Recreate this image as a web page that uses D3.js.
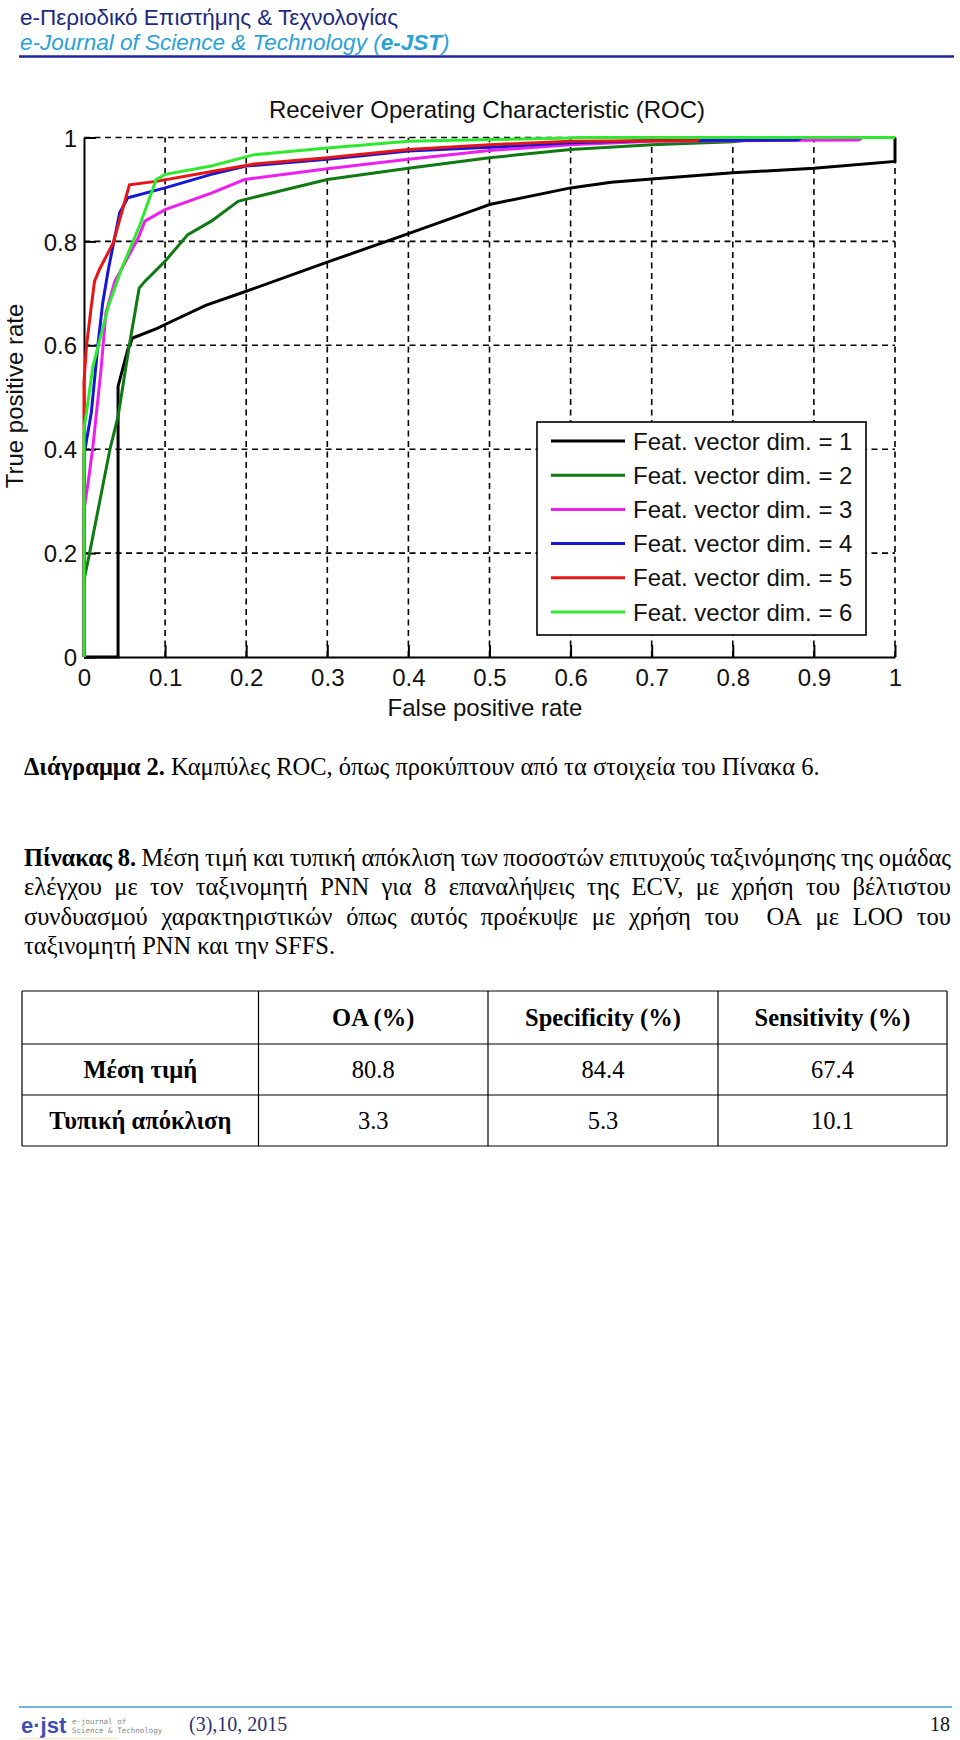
<!DOCTYPE html>
<html>
<head>
<meta charset="utf-8">
<script src="https://cdn.jsdelivr.net/npm/d3@7"></script>
<style>
html,body{margin:0;padding:0;background:#fff;}
svg{display:block;}
</style>
</head>
<body>
<svg id="page" width="960" height="1740"></svg>
<script>
// ---------------- DATA ----------------
const xTicks = [0, 0.1, 0.2, 0.3, 0.4, 0.5, 0.6, 0.7, 0.8, 0.9, 1];
const yTicks = [0, 0.2, 0.4, 0.6, 0.8, 1];
const xTickLabels = ["0", "0.1", "0.2", "0.3", "0.4", "0.5", "0.6", "0.7", "0.8", "0.9", "1"];
const yTickLabels = ["0", "0.2", "0.4", "0.6", "0.8", "1"];

const seriesLabels = [
  "Feat. vector dim. = 1", "Feat. vector dim. = 2", "Feat. vector dim. = 3",
  "Feat. vector dim. = 4", "Feat. vector dim. = 5", "Feat. vector dim. = 6"
];
// [false positive rate, true positive rate]
const rocDim1 = [[0,0],[0.042,0],[0.042,0.521],[0.054,0.592],[0.06,0.614],[0.091,0.633],[0.1,0.64],[0.15,0.677],[0.2,0.704],[0.3,0.76],[0.4,0.815],[0.488,0.864],[0.5,0.871],[0.6,0.903],[0.65,0.914],[0.7,0.92],[0.8,0.932],[0.9,0.941],[1,0.954],[1,1]];
const rocDim2 = [[0,0],[0,0.148],[0.007,0.201],[0.032,0.40],[0.042,0.463],[0.056,0.601],[0.068,0.71],[0.075,0.723],[0.1,0.762],[0.128,0.813],[0.157,0.839],[0.19,0.877],[0.215,0.887],[0.3,0.919],[0.4,0.941],[0.5,0.961],[0.6,0.977],[0.7,0.986],[0.8,0.992],[0.82,0.995],[0.83,1],[1,1]];
const rocDim3 = [[0,0],[0,0.283],[0.005,0.335],[0.011,0.405],[0.021,0.553],[0.027,0.662],[0.038,0.723],[0.046,0.746],[0.067,0.807],[0.075,0.839],[0.1,0.861],[0.157,0.893],[0.198,0.919],[0.3,0.94],[0.4,0.958],[0.5,0.975],[0.6,0.986],[0.7,0.993],[0.955,0.995],[0.96,1],[1,1]];
const rocDim4 = [[0,0],[0,0.389],[0.009,0.47],[0.017,0.598],[0.023,0.681],[0.03,0.746],[0.044,0.855],[0.054,0.884],[0.1,0.903],[0.157,0.929],[0.2,0.945],[0.3,0.958],[0.4,0.974],[0.5,0.981],[0.6,0.99],[0.7,0.994],[0.88,0.995],[0.885,1],[1,1]];
const rocDim5 = [[0,0],[0,0.53],[0.003,0.598],[0.009,0.675],[0.013,0.723],[0.019,0.746],[0.036,0.797],[0.056,0.909],[0.091,0.916],[0.149,0.932],[0.21,0.949],[0.3,0.961],[0.4,0.977],[0.5,0.986],[0.6,0.993],[0.756,0.994],[0.76,1],[1,1]];
const rocDim6 = [[0,0],[0,0.437],[0.011,0.559],[0.03,0.675],[0.046,0.746],[0.069,0.832],[0.089,0.919],[0.1,0.929],[0.157,0.945],[0.21,0.967],[0.3,0.98],[0.4,0.993],[0.5,0.996],[0.6,0.999],[0.61,1],[1,1]];

const tableHeaders = ["", "OA (%)", "Specificity (%)", "Sensitivity (%)"];
const tableRowLabels = ["Μέση τιμή", "Τυπική απόκλιση"];
const tableValues = [["80.8", "84.4", "67.4"], ["3.3", "5.3", "10.1"]];

// ---------------- STYLE ----------------
const seriesColors = ["#000000", "#0f7a12", "#ee1fee", "#1616d6", "#e61616", "#2eea2e"];
const SANS = "'Liberation Sans', Arial, sans-serif";
const SERIF = "'Liberation Serif', 'Times New Roman', serif";
const TEXT_SIZE = 24.5;

const svg = d3.select("#page");
svg.append("rect").attr("width", 960).attr("height", 1740).attr("fill", "#fff");

// ---------------- HEADER ----------------
svg.append("text").attr("x", 20).attr("y", 25)
  .attr("font-family", SANS).attr("font-size", 22.5).attr("fill", "#1c2a84")
  .text("e-Περιοδικό Επιστήμης & Τεχνολογίας");
const h2 = svg.append("text").attr("x", 20).attr("y", 49.5)
  .attr("font-family", SANS).attr("font-size", 22.5).attr("font-style", "italic").attr("fill", "#2ba2d6");
h2.append("tspan").text("e-Journal of Science & Technology (");
h2.append("tspan").attr("font-weight", "bold").text("e-JST");
h2.append("tspan").text(")");
svg.append("line").attr("x1", 19).attr("x2", 954).attr("y1", 56.5).attr("y2", 56.5)
  .attr("stroke", "#1f23a0").attr("stroke-width", 2.5);

// ---------------- CHART ----------------
const plot = {left: 84, right: 895, top: 137.5, bottom: 657};
const x = d3.scaleLinear().domain([0, 1]).range([plot.left, plot.right]);
const y = d3.scaleLinear().domain([0, 1]).range([plot.bottom, plot.top]);

const g = svg.append("g");

// grid
g.selectAll("line.vgrid").data(xTicks.filter(d => d > 0)).enter().append("line")
  .attr("x1", d => x(d)).attr("x2", d => x(d)).attr("y1", y(0)).attr("y2", y(1))
  .attr("stroke", "#000").attr("stroke-width", 1.6).attr("stroke-dasharray", "6,4.5");
g.selectAll("line.hgrid").data(yTicks.filter(d => d > 0)).enter().append("line")
  .attr("x1", x(0)).attr("x2", x(1)).attr("y1", d => y(d)).attr("y2", d => y(d))
  .attr("stroke", "#000").attr("stroke-width", 1.6).attr("stroke-dasharray", "6,4.5");

// axes
const xAxis = d3.axisBottom(x).tickValues(xTicks).tickFormat((d, i) => xTickLabels[i]).tickSizeInner(-12).tickSizeOuter(0).tickPadding(12);
const yAxis = d3.axisLeft(y).tickValues(yTicks).tickFormat((d, i) => yTickLabels[i]).tickSizeInner(-12).tickSizeOuter(0).tickPadding(7);
const gx = g.append("g").attr("transform", `translate(0,${plot.bottom})`).call(xAxis);
const gy = g.append("g").attr("transform", `translate(${plot.left},0)`).call(yAxis);
[gx, gy].forEach(a => {
  a.select(".domain").attr("stroke", "#000").attr("stroke-width", 2);
  a.selectAll(".tick line").attr("stroke", "#000").attr("stroke-width", 2);
  a.selectAll(".tick text").attr("font-family", SANS).attr("font-size", 24).attr("fill", "#111");
});
gx.selectAll(".tick text").attr("dy", "0.71em");
gy.selectAll(".tick text").attr("dy", "0.36em");

// curves
const allSeries = [rocDim1, rocDim2, rocDim3, rocDim4, rocDim5, rocDim6];
const line = d3.line().x(d => x(d[0])).y(d => y(d[1]));
g.selectAll("path.roc").data(allSeries).enter().append("path")
  .attr("class", "roc")
  .attr("d", line).attr("fill", "none")
  .attr("stroke", (d, i) => seriesColors[i]).attr("stroke-width", 3)
  .attr("stroke-linejoin", "miter");

// title & labels
g.append("text").attr("x", 487).attr("y", 118).attr("text-anchor", "middle")
  .attr("font-family", SANS).attr("font-size", 24).attr("fill", "#111")
  .text("Receiver Operating Characteristic (ROC)");
g.append("text").attr("x", 485).attr("y", 716).attr("text-anchor", "middle")
  .attr("font-family", SANS).attr("font-size", 24).attr("fill", "#111")
  .text("False positive rate");
g.append("text").attr("transform", "translate(23,396) rotate(-90)").attr("text-anchor", "middle")
  .attr("font-family", SANS).attr("font-size", 24).attr("fill", "#111")
  .text("True positive rate");

// legend
const legendRow = d3.scaleLinear().domain([0, 5]).range([441, 612]);
const lg = g.append("g");
lg.append("rect").attr("x", 537).attr("y", 422).attr("width", 329).attr("height", 213)
  .attr("fill", "#fff").attr("stroke", "#000").attr("stroke-width", 1.6);
seriesLabels.forEach((lab, i) => {
  lg.append("line").attr("x1", 551).attr("x2", 625).attr("y1", legendRow(i)).attr("y2", legendRow(i))
    .attr("stroke", seriesColors[i]).attr("stroke-width", 3);
  lg.append("text").attr("x", 633).attr("y", legendRow(i)).attr("dy", "0.36em")
    .attr("font-family", SANS).attr("font-size", 24).attr("fill", "#111").text(lab);
});

// ---------------- CAPTION & PARAGRAPH ----------------
const cap = svg.append("text").attr("x", 24).attr("y", 775)
  .attr("font-family", SERIF).attr("font-size", TEXT_SIZE).attr("fill", "#000");
cap.append("tspan").attr("font-weight", "bold").text("Διάγραμμα 2.");
cap.append("tspan").text(" Καμπύλες ROC, όπως προκύπτουν από τα στοιχεία του Πίνακα 6.");

const paraLines = [
  {bold: "Πίνακας 8.", text: "Μέση τιμή και τυπική απόκλιση των ποσοστών επιτυχούς ταξινόμησης της ομάδας", justify: true},
  {bold: "", text: "ελέγχου με τον ταξινομητή PNN για 8 επαναλήψεις της ECV, με χρήση του βέλτιστου", justify: true},
  {bold: "", text: "συνδυασμού χαρακτηριστικών όπως αυτός προέκυψε με χρήση του  OA με LOO του", justify: true},
  {bold: "", text: "ταξινομητή PNN και την SFFS.", justify: false}
];
const paraX0 = 24, paraX1 = 951;
const paraBase = d3.scaleLinear().domain([0, 3]).range([866, 954]);
paraLines.forEach((ln, li) => {
  const words = [];
  if (ln.bold) ln.bold.split(" ").forEach(w => words.push({w, b: true}));
  ln.text.split(" ").forEach(w => words.push({w, b: false}));
  const t = svg.append("text").attr("y", paraBase(li))
    .attr("font-family", SERIF).attr("font-size", TEXT_SIZE).attr("fill", "#000");
  const spans = words.map(o => t.append("tspan").attr("font-weight", o.b ? "bold" : "normal").text(o.w));
  const widths = spans.map(s => s.node().getComputedTextLength());
  const total = d3.sum(widths);
  const n = words.length;
  const spaceW = 6;
  const gap = ln.justify ? (paraX1 - paraX0 - total) / (n - 1) : spaceW;
  let cx = paraX0;
  spans.forEach((s, i) => { s.attr("x", cx); cx += widths[i] + gap; });
});

// ---------------- TABLE ----------------
const colEdges = [22, 258.5, 488, 718, 947];
const rowEdges = [991, 1044, 1095, 1146];
const tg = svg.append("g");
colEdges.forEach(cx => tg.append("line").attr("x1", cx).attr("x2", cx).attr("y1", rowEdges[0]).attr("y2", rowEdges[rowEdges.length - 1])
  .attr("stroke", "#000").attr("stroke-width", 1.2));
rowEdges.forEach(ry => tg.append("line").attr("x1", colEdges[0]).attr("x2", colEdges[colEdges.length - 1]).attr("y1", ry).attr("y2", ry)
  .attr("stroke", "#000").attr("stroke-width", 1.2));
const cellText = (ci, ri, txt, bold) => {
  tg.append("text").attr("x", (colEdges[ci] + colEdges[ci + 1]) / 2).attr("y", (rowEdges[ri] + rowEdges[ri + 1]) / 2)
    .attr("dy", "0.35em").attr("text-anchor", "middle")
    .attr("font-family", SERIF).attr("font-size", 24.5).attr("font-weight", bold ? "bold" : "normal")
    .attr("fill", "#000").text(txt);
};
tableHeaders.forEach((h, ci) => { if (h) cellText(ci, 0, h, true); });
tableRowLabels.forEach((r, ri) => {
  cellText(0, ri + 1, r, true);
  tableValues[ri].forEach((v, vi) => cellText(vi + 1, ri + 1, v, false));
});

// ---------------- FOOTER ----------------
svg.append("line").attr("x1", 19).attr("x2", 952).attr("y1", 1707).attr("y2", 1707)
  .attr("stroke", "#6db8de").attr("stroke-width", 2);
svg.append("text").attr("x", 21).attr("y", 1733)
  .attr("font-family", SANS).attr("font-weight", "bold").attr("font-size", 22).attr("fill", "#3f4fb0")
  .text("e·jst");
svg.append("text").attr("x", 72).attr("y", 1724)
  .attr("font-family", "'DejaVu Sans Mono', monospace").attr("font-size", 7.5).attr("fill", "#888")
  .text("e-journal of");
svg.append("text").attr("x", 72).attr("y", 1733)
  .attr("font-family", "'DejaVu Sans Mono', monospace").attr("font-size", 7.5).attr("fill", "#888")
  .text("Science & Technology");
svg.append("line").attr("x1", 19).attr("x2", 118).attr("y1", 1738.5).attr("y2", 1738.5)
  .attr("stroke", "#f1ecd0").attr("stroke-width", 1.5);
svg.append("text").attr("x", 189).attr("y", 1731)
  .attr("font-family", SERIF).attr("font-size", 20).attr("fill", "#2c3170")
  .text("(3),10, 2015");
svg.append("text").attr("x", 950).attr("y", 1731).attr("text-anchor", "end")
  .attr("font-family", SERIF).attr("font-size", 20).attr("fill", "#111")
  .text("18");
</script>
</body>
</html>
